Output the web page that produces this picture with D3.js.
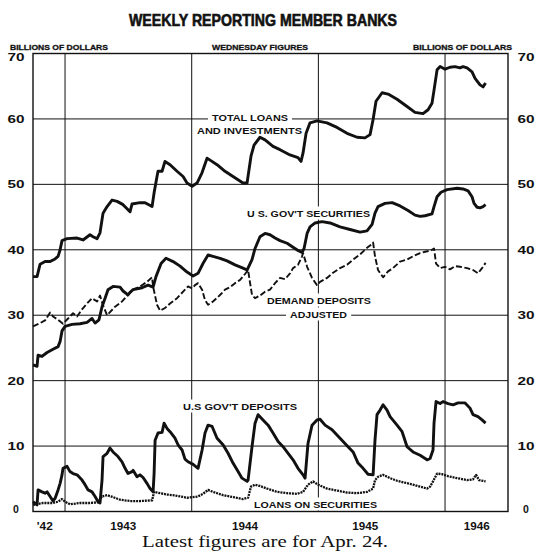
<!DOCTYPE html>
<html>
<head>
<meta charset="utf-8">
<script src="https://cdn.jsdelivr.net/npm/d3@7"></script>
<style>
body { margin: 0; background: #fff; }
.lbl { font-family: "Liberation Sans", Arial, sans-serif; font-weight: bold; fill: #111; }
.cap { font-family: "Liberation Serif", "DejaVu Serif", serif; fill: #111; }
</style>
</head>
<body>
<div class="interactive"></div>
<script>
// weekly series, billions of dollars, [year (decimal), value]
var totalLoans = [[1942.747,35.9],[1942.779,35.9],[1942.803,37.8],[1942.842,38.2],[1942.882,38.2],[1942.921,38.6],[1942.945,39.0],[1942.961,40.0],[1942.976,41.4],[1943.016,41.7],[1943.095,41.8],[1943.142,41.5],[1943.197,42.3],[1943.221,42.0],[1943.253,41.7],[1943.276,42.6],[1943.300,45.6],[1943.332,46.6],[1943.371,47.6],[1943.411,47.4],[1943.458,46.9],[1943.513,45.8],[1943.529,47.0],[1943.592,47.2],[1943.632,47.2],[1943.687,46.6],[1943.703,48.7],[1943.726,51.2],[1943.734,52.0],[1943.766,52.0],[1943.789,53.5],[1943.829,53.0],[1943.884,52.0],[1943.932,51.2],[1943.963,50.2],[1944.003,49.7],[1944.042,50.2],[1944.082,51.8],[1944.121,54.0],[1944.145,53.7],[1944.200,53.0],[1944.263,52.0],[1944.326,51.2],[1944.405,50.2],[1944.437,50.2],[1944.468,54.3],[1944.492,56.0],[1944.539,57.2],[1944.579,56.8],[1944.642,55.8],[1944.697,55.3],[1944.776,54.5],[1944.839,54.1],[1944.863,53.5],[1944.879,54.8],[1944.903,57.8],[1944.934,59.4],[1944.989,59.7],[1945.068,59.4],[1945.147,58.7],[1945.226,57.8],[1945.305,57.2],[1945.368,57.1],[1945.408,57.6],[1945.432,59.9],[1945.455,62.7],[1945.503,64.0],[1945.550,63.8],[1945.621,63.0],[1945.700,61.9],[1945.763,61.0],[1945.826,60.8],[1945.866,61.4],[1945.897,62.4],[1945.913,64.4],[1945.937,67.5],[1945.961,68.0],[1946.000,67.6],[1946.039,67.9],[1946.079,68.0],[1946.118,67.8],[1946.142,68.0],[1946.174,67.8],[1946.213,67.2],[1946.237,66.2],[1946.276,65.2],[1946.300,64.9],[1946.320,65.5]];

var govSecurities = [[1942.747,22.4],[1942.779,22.2],[1942.787,23.9],[1942.818,23.7],[1942.858,24.3],[1942.905,24.8],[1942.945,25.2],[1942.961,26.0],[1942.976,27.6],[1943.000,28.3],[1943.055,28.6],[1943.118,28.7],[1943.174,28.9],[1943.213,29.5],[1943.237,28.8],[1943.268,29.3],[1943.292,31.3],[1943.316,32.6],[1943.339,33.9],[1943.379,34.4],[1943.434,34.3],[1943.458,33.7],[1943.497,33.1],[1943.513,33.5],[1943.537,33.9],[1943.608,34.2],[1943.655,34.6],[1943.695,34.3],[1943.718,35.9],[1943.758,37.9],[1943.797,38.7],[1943.853,38.2],[1943.908,37.5],[1943.963,36.6],[1944.011,36.0],[1944.050,36.4],[1944.089,37.9],[1944.129,39.2],[1944.168,39.0],[1944.224,38.7],[1944.279,38.3],[1944.342,37.7],[1944.405,37.2],[1944.437,36.9],[1944.476,38.5],[1944.500,40.2],[1944.539,42.0],[1944.579,42.5],[1944.618,42.3],[1944.658,41.8],[1944.697,41.4],[1944.753,41.0],[1944.800,40.4],[1944.839,39.9],[1944.871,39.6],[1944.887,40.2],[1944.911,42.5],[1944.934,43.5],[1944.974,44.1],[1945.029,44.3],[1945.092,44.1],[1945.171,43.5],[1945.250,43.1],[1945.329,42.7],[1945.384,42.9],[1945.424,43.9],[1945.447,45.6],[1945.471,46.6],[1945.526,47.1],[1945.582,47.2],[1945.645,46.7],[1945.708,46.0],[1945.763,45.3],[1945.803,45.1],[1945.842,45.2],[1945.897,45.5],[1945.913,46.6],[1945.937,48.1],[1945.968,48.8],[1946.016,49.2],[1946.095,49.4],[1946.142,49.3],[1946.182,49.0],[1946.213,48.1],[1946.229,47.1],[1946.253,46.5],[1946.276,46.4],[1946.300,46.6],[1946.320,46.9]];

var demandDeposits = [[1942.747,28.3],[1942.803,28.8],[1942.842,29.2],[1942.882,30.4],[1942.905,29.8],[1942.945,29.3],[1942.984,28.7],[1943.024,29.5],[1943.063,30.3],[1943.095,29.8],[1943.134,30.9],[1943.174,31.8],[1943.213,32.6],[1943.253,32.1],[1943.276,33.0],[1943.300,31.5],[1943.332,30.0],[1943.395,31.3],[1943.450,32.1],[1943.497,33.1],[1943.537,33.9],[1943.592,34.4],[1943.647,35.1],[1943.687,35.8],[1943.695,34.4],[1943.726,31.6],[1943.750,30.7],[1943.789,31.1],[1943.829,31.8],[1943.884,32.6],[1943.932,33.6],[1943.971,34.4],[1944.003,34.1],[1944.026,34.6],[1944.050,34.9],[1944.082,33.9],[1944.105,32.3],[1944.129,31.6],[1944.168,32.1],[1944.208,32.8],[1944.239,33.4],[1944.263,33.9],[1944.303,34.3],[1944.342,34.9],[1944.382,35.4],[1944.421,36.3],[1944.445,36.9],[1944.461,34.9],[1944.476,33.1],[1944.500,32.6],[1944.539,33.0],[1944.579,33.6],[1944.618,33.9],[1944.658,34.9],[1944.697,35.7],[1944.737,35.5],[1944.776,36.4],[1944.800,37.2],[1944.839,37.7],[1944.871,39.0],[1944.879,39.5],[1944.911,37.4],[1944.950,35.7],[1944.989,34.6],[1945.013,35.1],[1945.068,35.7],[1945.116,36.5],[1945.171,37.2],[1945.226,37.7],[1945.274,38.5],[1945.329,39.3],[1945.384,40.3],[1945.424,40.9],[1945.432,41.1],[1945.447,39.0],[1945.471,36.9],[1945.511,35.8],[1945.550,36.7],[1945.589,37.2],[1945.645,38.2],[1945.700,38.5],[1945.747,39.0],[1945.803,39.5],[1945.842,39.7],[1945.889,39.9],[1945.913,40.2],[1945.929,37.9],[1945.961,37.2],[1946.000,37.4],[1946.039,37.0],[1946.079,37.5],[1946.118,37.4],[1946.174,37.2],[1946.221,36.9],[1946.260,36.4],[1946.292,37.2],[1946.320,38.0]];

var govDeposits = [[1942.747,1.5],[1942.779,1.0],[1942.787,3.3],[1942.818,3.0],[1942.842,2.8],[1942.858,3.0],[1942.882,2.3],[1942.905,1.6],[1942.921,2.0],[1942.945,3.3],[1942.961,4.3],[1942.976,5.6],[1942.984,6.6],[1943.016,6.9],[1943.039,6.1],[1943.063,5.8],[1943.095,5.6],[1943.134,4.8],[1943.158,4.1],[1943.182,3.3],[1943.213,3.0],[1943.237,2.3],[1943.261,1.5],[1943.276,1.3],[1943.292,4.8],[1943.300,8.4],[1943.332,8.9],[1943.355,9.7],[1943.379,9.1],[1943.418,8.4],[1943.450,7.6],[1943.474,6.6],[1943.497,5.8],[1943.529,6.1],[1943.537,6.3],[1943.568,5.3],[1943.592,5.6],[1943.616,5.2],[1943.647,4.3],[1943.671,3.5],[1943.695,3.0],[1943.703,5.8],[1943.711,10.9],[1943.734,12.0],[1943.766,12.1],[1943.782,13.5],[1943.805,12.7],[1943.829,12.2],[1943.868,11.2],[1943.892,10.2],[1943.924,9.4],[1943.947,8.0],[1943.971,7.6],[1944.011,7.2],[1944.050,6.6],[1944.082,9.4],[1944.105,12.0],[1944.129,13.2],[1944.161,13.0],[1944.200,11.2],[1944.247,10.2],[1944.287,8.9],[1944.326,7.4],[1944.366,6.1],[1944.397,5.1],[1944.437,4.6],[1944.445,4.8],[1944.476,9.9],[1944.500,13.5],[1944.524,14.8],[1944.563,14.0],[1944.603,13.2],[1944.642,12.0],[1944.682,10.7],[1944.721,9.9],[1944.761,8.9],[1944.800,7.9],[1944.839,6.6],[1944.879,5.6],[1944.895,5.1],[1944.918,10.4],[1944.950,13.2],[1944.989,14.0],[1945.013,14.1],[1945.053,13.2],[1945.108,12.5],[1945.171,11.2],[1945.234,9.9],[1945.274,9.1],[1945.313,7.4],[1945.353,6.6],[1945.392,5.7],[1945.432,5.6],[1945.447,10.9],[1945.463,14.8],[1945.487,15.5],[1945.511,16.3],[1945.542,15.5],[1945.566,14.5],[1945.621,13.2],[1945.661,12.2],[1945.700,9.9],[1945.747,9.1],[1945.803,8.6],[1945.858,7.9],[1945.882,8.1],[1945.905,9.4],[1945.913,13.5],[1945.929,16.8],[1945.961,16.5],[1945.984,16.8],[1946.024,16.5],[1946.063,16.3],[1946.103,16.6],[1946.158,16.6],[1946.197,15.8],[1946.221,14.8],[1946.260,14.5],[1946.292,14.0],[1946.320,13.5]];

var loansOnSec = [[1942.747,1.0],[1942.826,1.3],[1942.905,1.3],[1942.945,1.5],[1942.976,1.9],[1943.000,1.5],[1943.039,1.1],[1943.118,1.3],[1943.197,1.3],[1943.261,1.4],[1943.292,2.3],[1943.332,2.5],[1943.379,2.2],[1943.434,1.8],[1943.513,1.6],[1943.592,1.6],[1943.687,1.7],[1943.703,3.0],[1943.750,2.8],[1943.805,2.6],[1943.884,2.4],[1943.963,2.1],[1944.011,2.2],[1944.050,2.3],[1944.089,2.7],[1944.129,3.3],[1944.168,3.0],[1944.247,2.5],[1944.326,2.2],[1944.405,1.9],[1944.445,2.1],[1944.468,3.8],[1944.500,4.1],[1944.539,3.9],[1944.595,3.5],[1944.674,3.0],[1944.753,2.8],[1944.832,2.7],[1944.879,3.0],[1944.918,4.1],[1944.958,4.6],[1944.997,4.1],[1945.068,3.5],[1945.147,3.2],[1945.226,2.9],[1945.305,2.8],[1945.384,3.0],[1945.432,3.5],[1945.447,4.8],[1945.471,5.3],[1945.511,5.6],[1945.566,5.1],[1945.621,4.7],[1945.684,4.4],[1945.747,4.1],[1945.803,3.8],[1945.858,3.5],[1945.882,3.8],[1945.905,4.6],[1945.937,5.8],[1945.976,5.7],[1946.024,5.4],[1946.095,5.1],[1946.174,4.8],[1946.221,4.9],[1946.245,5.6],[1946.268,4.8],[1946.320,4.6]];

var yTicks = [0, 10, 20, 30, 40, 50, 60, 70];
var yearLines = [1943, 1944, 1945, 1946];
var yearLabelPos = [1942.84, 1943.46, 1944.42, 1945.37, 1946.25];
var yearLabels = ["'42", "1943", "1944", "1945", "1946"];

var width = 546;
var height = 552;

var svg = d3.select(".interactive")
    .append("svg")
    .attr("width", width)
    .attr("height", height);

var x = d3.scaleLinear()
    .domain([1942.747, 1946.497])
    .range([33, 508]);

var y = d3.scaleLinear()
    .domain([0, 70])
    .range([511.5, 53.5]);

// grid
var grid = svg.append("g").attr("stroke", "#111").attr("stroke-width", 1);

grid.selectAll("line.h")
    .data(yTicks.filter(function(d) { return d > 0 && d < 70; }))
    .enter()
    .append("line")
    .attr("x1", x.range()[0]).attr("x2", x.range()[1])
    .attr("y1", function(d) { return y(d); })
    .attr("y2", function(d) { return y(d); });

grid.selectAll("line.v")
    .data(yearLines)
    .enter()
    .append("line")
    .attr("x1", function(d) { return x(d); })
    .attr("x2", function(d) { return x(d); })
    .attr("y1", y(70)).attr("y2", y(0));

// knockouts go here, under the curves
var knock = svg.append("g");

svg.append("rect")
    .attr("x", x.range()[0]).attr("y", y(70))
    .attr("width", x.range()[1] - x.range()[0])
    .attr("height", y(0) - y(70))
    .attr("fill", "none")
    .attr("stroke", "#111")
    .attr("stroke-width", 1.4);

var line = d3.line()
    .x(function(d) { return x(d[0]); })
    .y(function(d) { return y(d[1]); });

function series(data, w, dash) {
    svg.append("path")
        .datum(data)
        .attr("fill", "none")
        .attr("stroke", "#111")
        .attr("stroke-width", w)
        .attr("stroke-linejoin", "round")
        .attr("stroke-dasharray", dash)
        .attr("d", line);
}

series(totalLoans, 2.9, null);
series(govSecurities, 2.9, null);
series(demandDeposits, 1.9, "6,2.5");
series(govDeposits, 2.9, null);
series(loansOnSec, 2.3, "2,0.9");

function txt(px, py, s, size, len, anchor, cls) {
    var t = svg.append("text")
        .attr("class", cls || "lbl")
        .attr("x", px)
        .attr("y", py)
        .attr("font-size", size)
        .attr("text-anchor", anchor || "start")
        .text(s);
    if (len) t.attr("textLength", len).attr("lengthAdjust", "spacingAndGlyphs");
    return t;
}

// series labels with white knockout behind them
function seriesLabel(px, py, s, len) {
    var t = txt(px, py, s, 9.5, len, "start");
    var b = t.node().getBBox();
    knock.append("rect")
        .attr("x", b.x - 4).attr("y", b.y - 1)
        .attr("width", b.width + 8).attr("height", b.height + 2)
        .attr("fill", "#fff");
}

seriesLabel(212, 120.5, "TOTAL LOANS", 76);
seriesLabel(197, 133.5, "AND INVESTMENTS", 105);
seriesLabel(247, 216.5, "U S. GOV'T SECURITIES", 123);
seriesLabel(267, 303.5, "DEMAND DEPOSITS", 104);
seriesLabel(290, 317.5, "ADJUSTED", 57);
seriesLabel(183, 409.5, "U.S GOV'T DEPOSITS", 114);
seriesLabel(254, 507.5, "LOANS ON SECURITIES", 123);

// headings
txt(263, 26, "WEEKLY REPORTING MEMBER BANKS", 16, 268, "middle")
    .attr("stroke", "#111").attr("stroke-width", 0.6);
txt(10, 49.5, "BILLIONS OF DOLLARS", 7.5, 98).attr("stroke", "#111").attr("stroke-width", 0.3);
txt(212, 49.5, "WEDNESDAY FIGURES", 7.5, 96).attr("stroke", "#111").attr("stroke-width", 0.3);
txt(413, 49.5, "BILLIONS OF DOLLARS", 7.5, 99).attr("stroke", "#111").attr("stroke-width", 0.3);

// y tick labels both sides
yTicks.forEach(function(v) {
    var shift = v === 70 ? 3 : (v === 0 ? -3 : 0);
    var len = v >= 10 ? 17 : null;
    txt(16, y(v) + 4 + shift, String(v), 10.5, len, "middle");
    txt(526, y(v) + 4 + shift, String(v), 10.5, len, "middle");
});

// year labels
yearLabels.forEach(function(s, i) {
    txt(x(yearLabelPos[i]), 530, s, 11, s.length === 4 ? 26 : 16, "middle");
});

txt(265, 547, "Latest figures are for Apr. 24.", 17, 246, "middle", "cap");
</script>
</body>
</html>
